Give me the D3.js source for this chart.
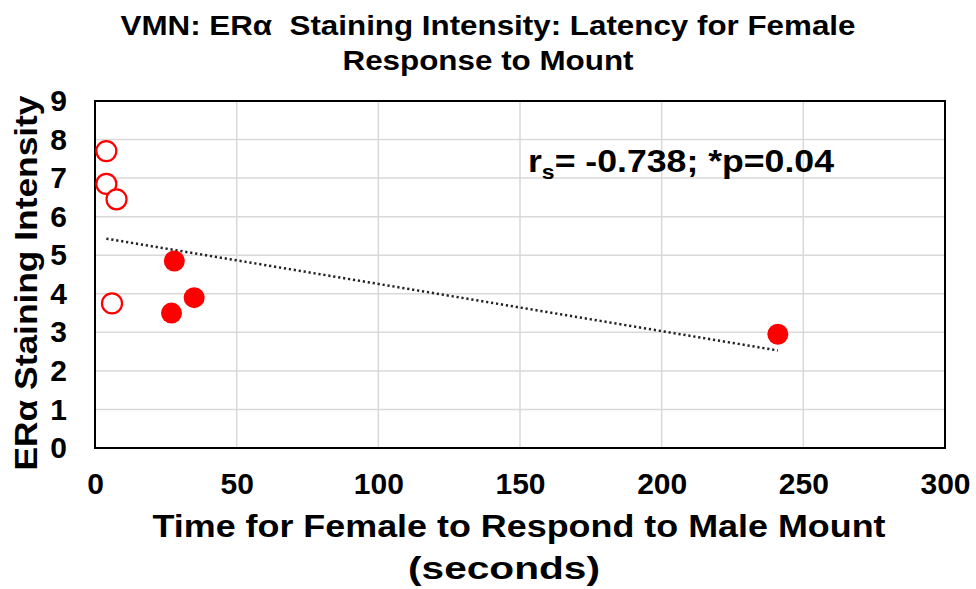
<!DOCTYPE html>
<html><head><meta charset="utf-8">
<script src="https://cdn.jsdelivr.net/npm/d3@7"></script>
<style>
html,body{margin:0;padding:0;background:#fff;}
text{font-family:"Liberation Sans",Arial,sans-serif;font-weight:bold;fill:#000;}
</style></head>
<body>
<svg id="chart" width="976" height="589"></svg>
<script>
// Data
const openX = [4, 4, 7.6, 6];
const openY = [7.7, 6.85, 6.45, 3.75];
const filledX = [28, 27, 35, 241];
const filledY = [4.85, 3.5, 3.9, 2.95];
const trendX = [4, 241];
const trendY = [5.43, 2.53];
const xTicks = [0, 50, 100, 150, 200, 250, 300];
const yTicks = [0, 1, 2, 3, 4, 5, 6, 7, 8, 9];
const titleLines = ["VMN: ER\u03b1  Staining Intensity: Latency for Female", "Response to Mount"];
const xTitleLines = ["Time for Female to Respond to Male Mount", "(seconds)"];
const yTitle = "ER\u03b1 Staining Intensity";

const svg = d3.select("#chart");
const m = {left: 95, right: 945, top: 101, bottom: 448};
const x = d3.scaleLinear().domain([0, 300]).range([m.left, m.right]);
const y = d3.scaleLinear().domain([0, 9]).range([m.bottom, m.top]);

// gridlines
svg.append("g").selectAll("line").data(xTicks.slice(1, -1)).join("line")
  .attr("x1", d => x(d)).attr("x2", d => x(d)).attr("y1", m.top).attr("y2", m.bottom)
  .attr("stroke", "#d9d9d9").attr("stroke-width", 1.5);
svg.append("g").selectAll("line").data(yTicks.slice(1, -1)).join("line")
  .attr("x1", m.left).attr("x2", m.right).attr("y1", d => y(d)).attr("y2", d => y(d))
  .attr("stroke", "#d9d9d9").attr("stroke-width", 1.5);

// border
svg.append("rect").attr("x", m.left).attr("y", m.top)
  .attr("width", m.right - m.left).attr("height", m.bottom - m.top)
  .attr("fill", "none").attr("stroke", "#000").attr("stroke-width", 2);

// axes (labels only)
const xAxis = svg.append("g").attr("transform", `translate(0,${m.bottom})`)
  .call(d3.axisBottom(x).tickValues(xTicks).tickSize(0).tickPadding(25));
xAxis.select(".domain").remove();
xAxis.selectAll("text").attr("font-size", 30).attr("font-family", null);
const yAxis = svg.append("g").attr("transform", `translate(${m.left},0)`)
  .call(d3.axisLeft(y).tickValues(yTicks).tickSize(0).tickPadding(28));
yAxis.select(".domain").remove();
yAxis.selectAll("text").attr("font-size", 30).attr("font-family", null);

// trendline
svg.append("line")
  .attr("x1", x(trendX[0])).attr("y1", y(trendY[0]))
  .attr("x2", x(trendX[1])).attr("y2", y(trendY[1]))
  .attr("stroke", "#222").attr("stroke-width", 2.5).attr("stroke-dasharray", "2.2,2.8");

// points
svg.append("g").selectAll("circle").data(d3.zip(openX, openY)).join("circle")
  .attr("cx", d => x(d[0])).attr("cy", d => y(d[1])).attr("r", 10)
  .attr("fill", "#fff").attr("stroke", "#ff0000").attr("stroke-width", 2.2);
svg.append("g").selectAll("circle").data(d3.zip(filledX, filledY)).join("circle")
  .attr("cx", d => x(d[0])).attr("cy", d => y(d[1])).attr("r", 10.5)
  .attr("fill", "#ff0000");

// annotation
const ann = svg.append("g").attr("transform", "translate(528,172) scale(1.15,1)")
  .append("text").attr("x", 0).attr("y", 0).attr("font-size", 31);
ann.append("tspan").text("r");
ann.append("tspan").attr("font-size", 20).attr("dy", 7).text("s");
ann.append("tspan").attr("dy", -7).text("= -0.738; *p=0.04");

// title
svg.append("text").attr("x", 488).attr("y", 35).attr("text-anchor", "middle")
  .attr("font-size", 28).attr("textLength", 735).attr("lengthAdjust", "spacingAndGlyphs")
  .style("white-space", "pre")
  .text(titleLines[0]);
svg.append("text").attr("x", 488).attr("y", 70).attr("text-anchor", "middle")
  .attr("font-size", 28).attr("textLength", 291).attr("lengthAdjust", "spacingAndGlyphs")
  .text(titleLines[1]);

// x title
svg.append("text").attr("x", 519).attr("y", 537).attr("text-anchor", "middle")
  .attr("font-size", 31).attr("textLength", 733).attr("lengthAdjust", "spacingAndGlyphs")
  .text(xTitleLines[0]);
svg.append("text").attr("x", 504).attr("y", 579).attr("text-anchor", "middle")
  .attr("font-size", 31).attr("textLength", 192).attr("lengthAdjust", "spacingAndGlyphs")
  .text(xTitleLines[1]);

// y title
svg.append("text").attr("transform", "translate(37,283) rotate(-90)")
  .attr("text-anchor", "middle").attr("font-size", 31)
  .attr("textLength", 375).attr("lengthAdjust", "spacingAndGlyphs").text(yTitle);
</script>
</body></html>
